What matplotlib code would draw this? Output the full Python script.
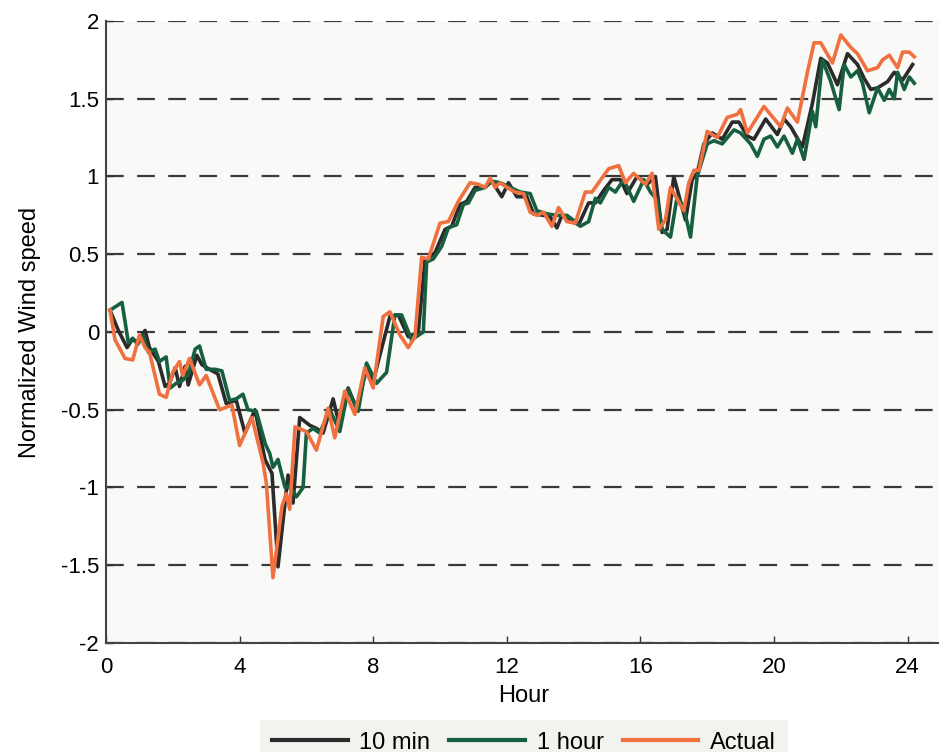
import matplotlib
matplotlib.use("Agg")
import matplotlib.pyplot as plt

# Actual normalized wind speed
actual_hours = [0.12, 0.27, 0.57, 0.8, 1.0, 1.17, 1.3, 1.6, 1.8, 2.0, 2.2, 2.3, 2.5, 2.8, 3.0,
                3.4, 3.77, 4.0, 4.37, 4.7, 4.8, 5.0, 5.27, 5.4, 5.5, 5.66, 6.0, 6.3, 6.65, 6.85,
                7.15, 7.45, 7.75, 8.0, 8.3, 8.5, 8.8, 9.05, 9.25, 9.45, 9.65, 10.0, 10.25, 10.55,
                10.9, 11.15, 11.35, 11.5, 11.65, 11.8, 12.0, 12.25, 12.5, 12.7, 12.9, 13.1, 13.35,
                13.55, 13.8, 14.05, 14.35, 14.55, 14.75, 15.05, 15.35, 15.55, 15.8, 16.15, 16.35,
                16.55, 16.75, 16.9, 17.3, 17.45, 17.6, 17.75, 18.0, 18.3, 18.6, 18.9, 19.0, 19.2,
                19.7, 20.2, 20.4, 20.7, 21.0, 21.2, 21.4, 21.75, 22.0, 22.3, 22.5, 22.8, 23.1,
                23.25, 23.45, 23.7, 23.85, 24.05, 24.2]
actual_values = [0.14, -0.05, -0.17, -0.18, -0.02, -0.10, -0.13, -0.40, -0.42, -0.26, -0.19, -0.28,
                 -0.17, -0.34, -0.28, -0.50, -0.47, -0.73, -0.55, -0.84, -0.97, -1.58, -1.12, -1.04,
                 -1.14, -0.61, -0.64, -0.76, -0.49, -0.68, -0.38, -0.53, -0.23, -0.36, 0.10, 0.13,
                 -0.02, -0.10, -0.03, 0.48, 0.47, 0.70, 0.71, 0.84, 0.96, 0.95, 0.93, 0.99, 0.93,
                 0.96, 0.93, 0.90, 0.89, 0.77, 0.75, 0.77, 0.68, 0.80, 0.71, 0.70, 0.90, 0.90, 0.96,
                 1.05, 1.07, 0.96, 1.02, 0.95, 1.02, 0.66, 0.72, 0.93, 0.78, 0.96, 1.04, 1.04, 1.29,
                 1.25, 1.38, 1.40, 1.43, 1.28, 1.45, 1.32, 1.44, 1.35, 1.67, 1.86, 1.86, 1.73, 1.91,
                 1.83, 1.79, 1.68, 1.70, 1.75, 1.78, 1.70, 1.80, 1.80, 1.77]

# 10-minute-ahead forecast
min10_hours = [0.12, 0.37, 0.63, 0.78, 0.95, 1.17, 1.3, 1.57, 1.77, 1.9, 2.07, 2.2, 2.37, 2.46,
               2.72, 2.87, 3.1, 3.35, 3.6, 3.9, 4.16, 4.46, 4.76, 4.97, 5.15, 5.45, 5.6, 5.8, 6.1,
               6.3, 6.5, 6.8, 7.0, 7.25, 7.5, 7.8, 8.0, 8.15, 8.5, 8.75, 9.05, 9.35, 9.55, 9.85,
               10.15, 10.35, 10.6, 10.8, 11.05, 11.35, 11.55, 11.85, 12.05, 12.3, 12.6, 12.8, 13.1,
               13.3, 13.5, 13.65, 13.95, 14.15, 14.45, 14.65, 14.9, 15.15, 15.4, 15.6, 15.9, 16.2,
               16.45, 16.65, 16.8, 17.0, 17.35, 17.55, 17.7, 17.9, 18.15, 18.45, 18.75, 18.95, 19.2,
               19.4, 19.75, 20.1, 20.3, 20.5, 20.85, 21.15, 21.4, 21.6, 21.9, 22.2, 22.5, 22.7,
               22.9, 23.1, 23.4, 23.6, 23.85, 24.15]
min10_values = [0.14, 0.01, -0.10, -0.05, -0.06, 0.01, -0.10, -0.19, -0.35, -0.33, -0.23, -0.35,
                -0.22, -0.34, -0.15, -0.21, -0.24, -0.27, -0.46, -0.44, -0.65, -0.50, -0.82, -0.91,
                -1.51, -0.92, -1.10, -0.55, -0.60, -0.62, -0.65, -0.43, -0.61, -0.36, -0.49, -0.24,
                -0.32, -0.19, 0.10, 0.11, -0.03, 0.00, 0.46, 0.51, 0.66, 0.68, 0.82, 0.84, 0.93,
                0.93, 0.97, 0.87, 0.96, 0.87, 0.87, 0.76, 0.75, 0.74, 0.67, 0.75, 0.71, 0.69, 0.83,
                0.83, 0.91, 0.98, 0.98, 0.89, 1.00, 0.95, 1.00, 0.64, 0.66, 1.00, 0.72, 0.98, 1.02,
                1.21, 1.28, 1.24, 1.35, 1.35, 1.26, 1.24, 1.37, 1.27, 1.37, 1.32, 1.19, 1.47, 1.76,
                1.73, 1.59, 1.79, 1.72, 1.63, 1.56, 1.57, 1.61, 1.67, 1.62, 1.72]

# 1-hour-ahead forecast
hour1_hours = [0.12, 0.48, 0.67, 0.8, 0.95, 1.1, 1.27, 1.47, 1.6, 1.8, 1.92, 2.1, 2.3, 2.47, 2.67,
               2.8, 3.0, 3.27, 3.47, 3.7, 3.9, 4.1, 4.25, 4.5, 4.77, 4.9, 5.0, 5.15, 5.36, 5.5, 5.7,
               5.9, 6.0, 6.2, 6.4, 6.7, 7.0, 7.25, 7.55, 7.8, 8.1, 8.4, 8.65, 8.85, 9.15, 9.5, 9.6,
               9.8, 10.05, 10.25, 10.5, 10.7, 10.85, 11.05, 11.35, 11.55, 11.8, 12.1, 12.4, 12.7,
               12.9, 13.2, 13.5, 13.8, 14.05, 14.2, 14.45, 14.65, 14.8, 15.05, 15.25, 15.5, 15.8,
               16.1, 16.3, 16.5, 16.65, 16.9, 17.1, 17.3, 17.5, 17.7, 18.0, 18.2, 18.45, 18.8,
               19.0, 19.3, 19.5, 19.7, 19.9, 20.1, 20.3, 20.55, 20.7, 20.9, 21.15, 21.25, 21.45,
               21.7, 21.95, 22.1, 22.3, 22.5, 22.65, 22.85, 23.1, 23.3, 23.45, 23.6, 23.7, 23.9,
               24.05, 24.2]
hour1_values = [0.14, 0.19, -0.07, -0.04, -0.08, -0.02, -0.13, -0.11, -0.19, -0.16, -0.36, -0.33,
                -0.31, -0.27, -0.11, -0.09, -0.24, -0.24, -0.25, -0.44, -0.43, -0.40, -0.50, -0.51,
                -0.72, -0.78, -0.87, -0.82, -1.00, -0.99, -1.06, -1.00, -0.65, -0.62, -0.65, -0.50,
                -0.64, -0.37, -0.51, -0.20, -0.33, -0.26, 0.11, 0.11, -0.05, 0.00, 0.45, 0.47, 0.55,
                0.67, 0.69, 0.82, 0.83, 0.91, 0.93, 0.97, 0.96, 0.93, 0.90, 0.89, 0.78, 0.76, 0.75,
                0.75, 0.71, 0.68, 0.71, 0.86, 0.83, 0.93, 0.90, 0.98, 0.84, 0.98, 0.90, 0.85, 0.66,
                0.61, 0.87, 0.80, 0.61, 1.00, 1.21, 1.23, 1.21, 1.30, 1.28, 1.21, 1.13, 1.24, 1.26,
                1.19, 1.26, 1.15, 1.24, 1.11, 1.42, 1.32, 1.75, 1.61, 1.43, 1.72, 1.64, 1.68, 1.60,
                1.41, 1.57, 1.49, 1.56, 1.50, 1.67, 1.56, 1.64, 1.60]

x_ticks = [0, 4, 8, 12, 16, 20, 24]
y_ticks = [-2, -1.5, -1, -0.5, 0, 0.5, 1, 1.5, 2]
y_tick_labels = ["-2", "-1.5", "-1", "-0.5", "0", "0.5", "1", "1.5", "2"]

plt.rcParams["font.family"] = ["Liberation Sans", "DejaVu Sans"]

fig = plt.figure(figsize=(9.39, 7.52), dpi=100)
ax = fig.add_axes([106 / 939, 1 - 643 / 752, 835 / 939, 622 / 752])
ax.set_facecolor("#f9f9f7")

ax.plot(min10_hours, min10_values, color="#2b2b2b", lw=2.6, label="10 min", zorder=3)
ax.plot(hour1_hours, hour1_values, color="#17603f", lw=2.6, label="1 hour", zorder=3)
ax.plot(actual_hours, actual_values, color="#f07040", lw=2.6, label="Actual", zorder=4)

ax.set_xlim(0, 25)
ax.set_ylim(-2, 2)
ax.set_xticks(x_ticks)
ax.set_xticklabels([str(t) for t in x_ticks])
ax.set_yticks(y_ticks)
ax.set_yticklabels(y_tick_labels)
ax.tick_params(direction="in", length=5, width=1, labelsize=16, color="#333333")
ax.tick_params(axis="x", pad=10)
ax.tick_params(axis="y", pad=5)

for v in y_ticks:
    ax.axhline(v, color="#3a3a3a", lw=1.6, dashes=(8, 6), zorder=1)

for side in ("top", "right"):
    ax.spines[side].set_visible(False)
for side in ("left", "bottom"):
    ax.spines[side].set_color("#444444")
    ax.spines[side].set_linewidth(1.5)

ax.set_xlabel("Hour", fontsize=17, labelpad=5)
ax.set_ylabel("Normalized Wind speed", fontsize=17, labelpad=14)

leg = fig.legend(loc="upper center", bbox_to_anchor=(524 / 939, 1 - 708 / 752), ncol=3,
                 fontsize=17, frameon=True, fancybox=False, handlelength=3.2,
                 columnspacing=0.8, handletextpad=0.5, borderpad=0.5)
leg.get_frame().set_facecolor("#efefeb")
leg.get_frame().set_edgecolor("none")
for line in leg.get_lines():
    line.set_linewidth(3)

fig.savefig("out.png", dpi=100)
